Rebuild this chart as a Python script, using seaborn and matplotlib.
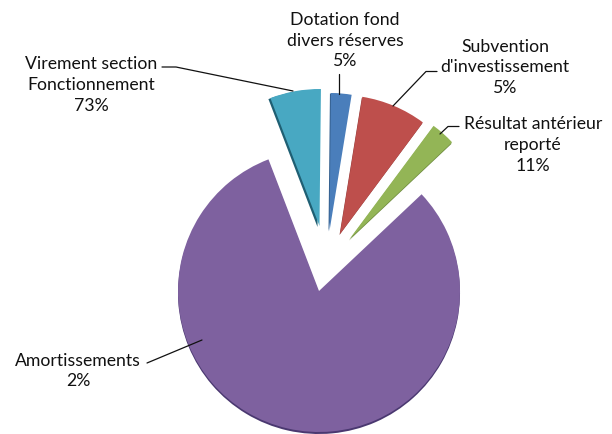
import matplotlib
matplotlib.use("Agg")
import matplotlib.pyplot as plt
import seaborn as sns

# slices in drawing order, counter-clockwise from the big one
categories = ["Amortissements", "Résultat antérieur\nreporté", "Subvention\nd'investissement",
              "Dotation fond\ndivers réserves", "Virement section\nFonctionnement"]
printed_pct = ["2%", "11%", "5%", "5%", "73%"]
slice_share = [81.2, 2.8, 7.6, 2.4, 6.0]

sns.set_theme(style="white")
plt.rcParams["font.family"] = ["Lato", "DejaVu Sans"]

colors = ["#7E619F", "#93B556", "#BE4F4C", "#4A7EBB", "#48A8C2"]
shades = ["#4A3870", "#6F8C40", "#8E3C3A", "#35608F", "#1F5F73"]
# slice tip and radius in image pixels
tips = [(319, 292), (349.5, 240), (340, 235), (329.5, 232), (319.5, 227)]
radii = [141, 141, 139, 138, 137]
shadow_shift = [(0, -2), (-0.5, -1.5), (-0.5, -1), (-1, -0.5), (-2, -1)]

fig = plt.figure(figsize=(6.12, 4.35), dpi=100)
ax = fig.add_axes([0, 0, 1, 1])

for layer in ("shadow", "face"):
    wedges, _ = ax.pie(slice_share, colors=shades if layer == "shadow" else colors,
                       startangle=111, counterclock=True, frame=True,
                       wedgeprops={"linewidth": 0})
    for wedge, (tx, ty), r, (sx, sy) in zip(wedges, tips, radii, shadow_shift):
        if layer == "shadow":
            wedge.set_center((tx + sx, 435 - ty + sy))
        else:
            wedge.set_center((tx, 435 - ty))
        wedge.set_radius(r)

ax.set_xlim(0, 612)
ax.set_ylim(0, 435)
ax.set_aspect("equal")
ax.axis("off")

# text centre and leader line for every slice, in image pixels
label_xy = [(78, 371), (533, 145), (505, 67.5), (345, 40.5), (91, 85)]
leaders = [
    [(147, 364), (202, 341)],
    [(459, 127.5), (448, 127.5), (440, 135)],
    [(437, 72.5), (426, 72.5), (393, 107)],
    [(339, 75), (339, 95)],
    [(162, 68), (176, 68), (293, 92)],
]

for name, pct, (x, y), path in zip(categories, printed_pct, label_xy, leaders):
    ax.text(x, 435 - y, f"{name}\n{pct}", ha="center", va="center", fontsize=12.7,
            color="#111111", linespacing=1.35)
    ax.plot([p[0] for p in path], [435 - p[1] for p in path], color="#111111", lw=0.9)

fig.savefig("out.png", dpi=100)
